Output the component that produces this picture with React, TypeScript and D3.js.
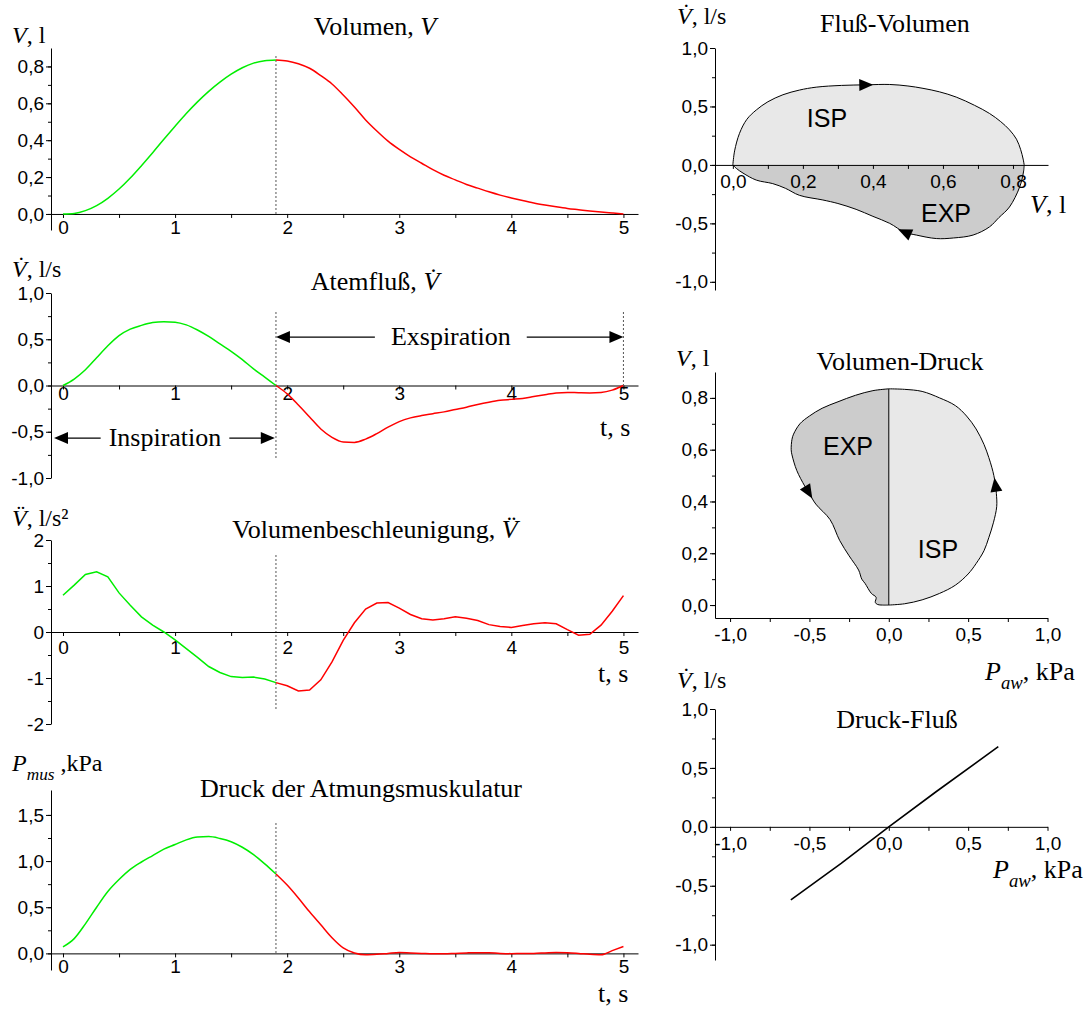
import { useEffect, useRef } from 'react';
import * as d3 from 'd3';

// time grids (s): inspiration 0..1.9, expiration 1.9..5.0
const tInsp = [0, 0.1, 0.2, 0.3, 0.4, 0.5, 0.6, 0.7, 0.8, 0.9, 1.0, 1.1, 1.2, 1.3, 1.4, 1.5, 1.6, 1.7, 1.8, 1.9];
const tExsp = [1.9, 2.0, 2.1, 2.2, 2.3, 2.4, 2.5, 2.6, 2.7, 2.8, 2.9, 3.0, 3.1, 3.2, 3.3, 3.4, 3.5, 3.6, 3.7, 3.8, 3.9, 4.0, 4.1, 4.2, 4.3, 4.4, 4.5, 4.6, 4.7, 4.8, 4.9, 5.0];
const tSwitch = 1.9;

const volumeInsp = [0, 0.003, 0.018, 0.045, 0.085, 0.135, 0.195, 0.262, 0.332, 0.405, 0.476, 0.545, 0.608, 0.665, 0.715, 0.758, 0.793, 0.818, 0.831, 0.835];
const volumeExsp = [0.835, 0.83, 0.815, 0.79, 0.75, 0.705, 0.645, 0.58, 0.51, 0.45, 0.395, 0.35, 0.31, 0.275, 0.24, 0.21, 0.185, 0.16, 0.14, 0.12, 0.102, 0.087, 0.073, 0.06, 0.049, 0.039, 0.03, 0.023, 0.016, 0.01, 0.005, 0];

const flowInsp = [0, 0.07, 0.17, 0.3, 0.43, 0.54, 0.61, 0.65, 0.68, 0.69, 0.685, 0.655, 0.6, 0.53, 0.45, 0.37, 0.28, 0.18, 0.09, 0];
const flowExsp = [0, -0.09, -0.21, -0.34, -0.47, -0.56, -0.61, -0.615, -0.58, -0.52, -0.45, -0.39, -0.35, -0.325, -0.305, -0.285, -0.26, -0.235, -0.205, -0.18, -0.16, -0.15, -0.14, -0.12, -0.1, -0.08, -0.075, -0.078, -0.08, -0.075, -0.05, 0];

const accInsp = [0.8, 1.02, 1.25, 1.31, 1.2, 0.85, 0.58, 0.33, 0.15, 0, -0.17, -0.36, -0.55, -0.75, -0.88, -0.97, -0.99, -0.98, -1.02, -1.1];
const accExsp = [-1.1, -1.17, -1.28, -1.26, -1.04, -0.65, -0.18, 0.2, 0.5, 0.63, 0.64, 0.52, 0.38, 0.29, 0.26, 0.29, 0.33, 0.3, 0.25, 0.16, 0.12, 0.1, 0.14, 0.18, 0.2, 0.18, 0.05, -0.07, -0.05, 0.15, 0.45, 0.79];

const pmusInsp = [0.07, 0.16, 0.32, 0.5, 0.67, 0.8, 0.91, 0.99, 1.06, 1.13, 1.18, 1.23, 1.26, 1.265, 1.245, 1.21, 1.15, 1.07, 0.97, 0.86];
const pmusExsp = [0.86, 0.74, 0.6, 0.45, 0.31, 0.17, 0.06, 0.005, -0.015, -0.01, 0, 0.01, 0.005, 0, -0.005, -0.005, 0, 0.005, 0.008, 0.006, 0, -0.003, 0, 0, 0.005, 0.01, 0.008, 0, -0.01, -0.015, 0.03, 0.075];

// flow-volume loop: [volume l, flow l/s]
const fvInsp: [number, number][] = [[0, 0], [0.005, 0.12], [0.019, 0.27], [0.04, 0.39], [0.067, 0.47], [0.1, 0.54], [0.143, 0.6], [0.19, 0.64], [0.238, 0.665], [0.31, 0.68], [0.381, 0.685], [0.448, 0.688], [0.5, 0.675], [0.543, 0.655], [0.59, 0.625], [0.638, 0.58], [0.69, 0.51], [0.733, 0.44], [0.765, 0.37], [0.79, 0.3], [0.81, 0.22], [0.822, 0.13], [0.829, 0.05], [0.832, 0]];
const fvExsp: [number, number][] = [[0.832, 0], [0.83, -0.06], [0.819, -0.19], [0.79, -0.36], [0.76, -0.45], [0.733, -0.53], [0.686, -0.6], [0.63, -0.625], [0.581, -0.63], [0.524, -0.6], [0.49, -0.575], [0.448, -0.5], [0.4, -0.44], [0.352, -0.38], [0.3, -0.33], [0.257, -0.3], [0.19, -0.26], [0.15, -0.2], [0.114, -0.16], [0.067, -0.13], [0.029, -0.07], [0.01, -0.03], [0, 0]];
const fvArrowInsp = 10;
const fvArrowExsp = 10;

// volume-pressure loop: [pressure kPa, volume l]
const vpInsp: [number, number][] = [[0, 0], [0.1, 0.005], [0.21, 0.02], [0.32, 0.045], [0.42, 0.077], [0.5, 0.12], [0.55, 0.16], [0.6, 0.21], [0.63, 0.26], [0.66, 0.32], [0.68, 0.38], [0.678, 0.43], [0.672, 0.465], [0.662, 0.5], [0.65, 0.53], [0.63, 0.57], [0.6, 0.62], [0.55, 0.68], [0.49, 0.73], [0.42, 0.77], [0.32, 0.8], [0.21, 0.825], [0.1, 0.833], [0, 0.835]];
const vpExsp: [number, number][] = [[0, 0.835], [-0.1, 0.828], [-0.21, 0.81], [-0.32, 0.785], [-0.42, 0.76], [-0.5, 0.73], [-0.56, 0.7], [-0.6, 0.66], [-0.61, 0.64], [-0.615, 0.6], [-0.61, 0.58], [-0.58, 0.52], [-0.53, 0.46], [-0.505, 0.435], [-0.46, 0.39], [-0.37, 0.33], [-0.31, 0.25], [-0.25, 0.19], [-0.19, 0.135], [-0.17, 0.1], [-0.15, 0.084], [-0.11, 0.045], [-0.08, 0.03], [-0.085, 0.01], [-0.07, 0.002], [-0.04, 0], [0, 0]];
const vpArrowInsp = 12;
const vpArrowExsp = 13;

// pressure-flow: [pressure kPa, flow l/s]
const pfLine: [number, number][] = [[-0.617, -0.62], [-0.3, -0.31], [0, 0], [0.3, 0.3], [0.69, 0.68]];

const timeTicks = [0, 1, 2, 3, 4, 5];
const timeMinor = [0, 0.5, 1, 1.5, 2, 2.5, 3, 3.5, 4, 4.5, 5];

const SERIF = '"Liberation Serif", "Times New Roman", Times, serif';
const SANS = '"Liberation Sans", Arial, sans-serif';
const GREEN = '#00ee00';
const RED = '#ff0000';

const loc = d3.formatLocale({ decimal: ',', thousands: '.', grouping: [3], currency: ['', ''], minus: '-' });
const f1 = loc.format('.1f');
const f0 = loc.format('d');

type Part = { s: string; i?: boolean; sub?: boolean };
type G = d3.Selection<SVGGElement, unknown, null, undefined>;

function addLabel(g: G, parts: Part[], x: number, y: number, anchor = 'start', size = 26) {
  const t = g.append('text').attr('x', x).attr('y', y).attr('text-anchor', anchor)
    .attr('font-family', SERIF).attr('font-size', size).attr('fill', '#000');
  let shifted = false;
  parts.forEach((p) => {
    const ts = t.append('tspan').text(p.s);
    if (p.i) ts.attr('font-style', 'italic');
    if (p.sub) { ts.attr('font-size', size * 0.72).attr('dy', 9); shifted = true; }
    else if (shifted) { ts.attr('dy', -9); shifted = false; }
  });
}

function styleAxis(s: any) {
  s.attr('font-family', SANS).attr('font-size', 19);
  s.selectAll('text').attr('fill', '#000');
  s.selectAll('line').attr('stroke', '#000');
  s.select('.domain').attr('stroke', '#000');
}

function yAxis(g: G, y: d3.ScaleLinear<number, number>, xPos: number, major: number[], minor: number[], fmt: (n: number) => string) {
  g.append('g').attr('transform', `translate(${xPos},0)`)
    .call(d3.axisLeft(y).tickValues(minor).tickSize(3).tickSizeOuter(0).tickFormat(() => ''))
    .call((s) => s.select('.domain').remove())
    .call(styleAxis);
  g.append('g').attr('transform', `translate(${xPos},0)`)
    .call(d3.axisLeft(y).tickValues(major).tickSize(5).tickPadding(2).tickSizeOuter(0).tickFormat(fmt as any))
    .call(styleAxis);
}

function xAxis(g: G, x: d3.ScaleLinear<number, number>, yPos: number, major: number[], minor: number[], fmt: (n: number) => string, gap: number) {
  g.append('g').attr('transform', `translate(0,${yPos})`)
    .call(d3.axisBottom(x).tickValues(minor).tickSize(4).tickSizeOuter(0).tickFormat(() => ''))
    .call(styleAxis);
  g.append('g').attr('transform', `translate(0,${yPos})`)
    .call(d3.axisBottom(x).tickValues(major).tickSize(0).tickPadding(gap).tickFormat(fmt as any))
    .call((s) => s.select('.domain').remove())
    .call(styleAxis);
}

function arrowHead(g: G, px: number, py: number, angle: number, tipAtPoint = false) {
  const L = 14, W = 6;
  const pts = tipAtPoint ? [[0, 0], [-L, -W], [-L, W]] : [[L / 2, 0], [-L / 2, -W], [-L / 2, W]];
  g.append('path').attr('d', `M${pts.map((p) => p.join(',')).join('L')}Z`)
    .attr('transform', `translate(${px},${py}) rotate(${angle})`).attr('fill', '#000');
}

function loopArrow(g: G, pts: [number, number][], i: number, xs: d3.ScaleLinear<number, number>, ys: d3.ScaleLinear<number, number>) {
  const a = pts[i - 1], b = pts[i + 1];
  const ang = (Math.atan2(ys(b[1]) - ys(a[1]), xs(b[0]) - xs(a[0])) * 180) / Math.PI;
  arrowHead(g, xs(pts[i][0]), ys(pts[i][1]), ang);
}

export default function App() {
  const ref = useRef<SVGSVGElement>(null);

  useEffect(() => {
    const svg = d3.select(ref.current);
    svg.selectAll('*').remove();
    const root = svg.append('g') as unknown as G;

    const x = d3.scaleLinear().domain([-0.107, 5.13]).range([51, 638]);
    const pair = (ts: number[], vs: number[]) => ts.map((t, i) => [t, vs[i]] as [number, number]);

    const timePanel = (
      y: d3.ScaleLinear<number, number>, yMajor: number[], yMinor: number[], fmt: (n: number) => string,
      gap: number, insp: number[], exsp: number[], curve: d3.CurveFactory, dotTop: number, dotBottom: number,
    ) => {
      const g = root.append('g') as unknown as G;
      g.append('line').attr('x1', x(tSwitch)).attr('x2', x(tSwitch)).attr('y1', dotTop).attr('y2', dotBottom)
        .attr('stroke', '#555').attr('stroke-dasharray', '2,2');
      yAxis(g, y, 51, yMajor, yMinor, fmt);
      xAxis(g, x, y(0), timeTicks, timeMinor, f0, gap);
      const line = d3.line<[number, number]>().x((d) => x(d[0])).y((d) => y(d[1])).curve(curve);
      g.append('path').attr('d', line(pair(tInsp, insp))).attr('fill', 'none').attr('stroke', GREEN).attr('stroke-width', 1.5);
      g.append('path').attr('d', line(pair(tExsp, exsp))).attr('fill', 'none').attr('stroke', RED).attr('stroke-width', 1.5);
      return g;
    };

    // Volumen
    const y1 = d3.scaleLinear().domain([-0.087, 0.9]).range([230, 48]);
    timePanel(y1, [0, 0.2, 0.4, 0.6, 0.8], [0, 0.1, 0.2, 0.3, 0.4, 0.5, 0.6, 0.7, 0.8], f1, 7, volumeInsp, volumeExsp, d3.curveMonotoneX, 56, y1(0));
    addLabel(root, [{ s: 'V', i: true }, { s: ', l' }], 12, 43, 'start', 24);
    addLabel(root, [{ s: 'Volumen, ' }, { s: 'V', i: true }], 375, 35, 'middle');

    // Atemfluss
    const y2 = d3.scaleLinear().domain([-1, 1]).range([478, 293]);
    const g2 = timePanel(y2, [-1, -0.5, 0, 0.5, 1], [-1, -0.75, -0.5, -0.25, 0, 0.25, 0.5, 0.75, 1], f1, 1, flowInsp, flowExsp, d3.curveMonotoneX, 312, 458);
    g2.append('line').attr('x1', x(5)).attr('x2', x(5)).attr('y1', 312).attr('y2', y2(0))
      .attr('stroke', '#555').attr('stroke-dasharray', '2,2');
    addLabel(root, [{ s: 'V\u0307', i: true }, { s: ', l/s' }], 12, 277, 'start', 24);
    addLabel(root, [{ s: 'Atemfluß, ' }, { s: 'V\u0307', i: true }], 375, 290, 'middle');
    addLabel(root, [{ s: 't, s' }], 600, 436);

    const phase = (t0: number, t1: number, fy: number, text: string, tc: number, pad: number) => {
      const yy = y2(fy);
      const label = g2.append('text').attr('x', x(tc)).attr('y', yy + 8).attr('text-anchor', 'middle')
        .attr('font-family', SERIF).attr('font-size', 26).text(text);
      const w = (label.node() as SVGTextElement).getComputedTextLength();
      const xa = x(t0), xb = x(t1), cx = x(tc);
      g2.append('line').attr('x1', xa + 4).attr('x2', cx - w / 2 - pad).attr('y1', yy).attr('y2', yy).attr('stroke', '#000').attr('stroke-width', 1.3);
      g2.append('line').attr('x1', cx + w / 2 + pad).attr('x2', xb - 4).attr('y1', yy).attr('y2', yy).attr('stroke', '#000').attr('stroke-width', 1.3);
      arrowHead(g2, xa, yy, 180, true);
      arrowHead(g2, xb, yy, 0, true);
    };
    phase(tSwitch, 5, 0.524, 'Exspiration', 3.46, 16);
    phase(-0.08, 1.89, -0.568, 'Inspiration', 0.91, 8);

    // Volumenbeschleunigung
    const y3 = d3.scaleLinear().domain([-2, 2]).range([724, 540]);
    timePanel(y3, [-2, -1, 0, 1, 2], [-2, -1.5, -1, -0.5, 0, 0.5, 1, 1.5, 2], f0, 9, accInsp, accExsp, d3.curveLinear, 555, 710);
    addLabel(root, [{ s: 'V\u0308', i: true }, { s: ', l/s\u00B2' }], 12, 526, 'start', 24);
    addLabel(root, [{ s: 'Volumenbeschleunigung, ' }, { s: 'V\u0308', i: true }], 375, 538, 'middle');
    addLabel(root, [{ s: 't, s' }], 598, 682);

    // Druck der Atmungsmuskulatur
    const y4 = d3.scaleLinear().domain([-0.18, 1.77]).range([970, 790]);
    timePanel(y4, [0, 0.5, 1, 1.5], [0, 0.25, 0.5, 0.75, 1, 1.25, 1.5], f1, 6, pmusInsp, pmusExsp, d3.curveMonotoneX, 823, y4(0));
    addLabel(root, [{ s: 'P', i: true }, { s: 'mus', i: true, sub: true }, { s: ' ,kPa' }], 12, 771, 'start', 24);
    addLabel(root, [{ s: 'Druck der Atmungsmuskulatur' }], 361, 797, 'middle');
    addLabel(root, [{ s: 't, s' }], 598, 1002);

    // Fluss-Volumen loop
    const xr1 = d3.scaleLinear().domain([-0.051, 0.9]).range([715, 1048]);
    const yr1 = d3.scaleLinear().domain([-1.07, 1]).range([290, 48]);
    const gr1 = root.append('g') as unknown as G;
    const lr1 = d3.line<[number, number]>().x((d) => xr1(d[0])).y((d) => yr1(d[1])).curve(d3.curveCatmullRom);
    gr1.append('path').attr('d', lr1(fvInsp) + 'Z').attr('fill', '#e8e8e8');
    gr1.append('path').attr('d', lr1(fvExsp) + 'Z').attr('fill', '#cccccc');
    yAxis(gr1, yr1, 715, [-1, -0.5, 0, 0.5, 1], [-1, -0.75, -0.5, -0.25, 0, 0.25, 0.5, 0.75, 1], f1);
    xAxis(gr1, xr1, yr1(0), [0, 0.2, 0.4, 0.6, 0.8], [0, 0.1, 0.2, 0.3, 0.4, 0.5, 0.6, 0.7, 0.8], f1, 10);
    gr1.append('path').attr('d', lr1(fvInsp)).attr('fill', 'none').attr('stroke', '#000');
    gr1.append('path').attr('d', lr1(fvExsp)).attr('fill', 'none').attr('stroke', '#000');
    loopArrow(gr1, fvInsp, fvArrowInsp, xr1, yr1);
    loopArrow(gr1, fvExsp, fvArrowExsp, xr1, yr1);
    gr1.append('text').attr('x', 827).attr('y', 127).attr('text-anchor', 'middle').attr('font-family', SANS).attr('font-size', 25).text('ISP');
    gr1.append('text').attr('x', 946).attr('y', 222).attr('text-anchor', 'middle').attr('font-family', SANS).attr('font-size', 25).text('EXP');
    addLabel(root, [{ s: 'V\u0307', i: true }, { s: ', l/s' }], 677, 24, 'start', 24);
    addLabel(root, [{ s: 'Fluß-Volumen' }], 895, 32, 'middle');
    addLabel(root, [{ s: 'V', i: true }, { s: ', l' }], 1030, 213, 'start', 26);

    // Volumen-Druck loop
    const xr = d3.scaleLinear().domain([-1.095, 1]).range([715, 1047.5]);
    const yr2 = d3.scaleLinear().domain([-0.05, 0.9]).range([618, 372]);
    const gr2 = root.append('g') as unknown as G;
    const lr2 = d3.line<[number, number]>().x((d) => xr(d[0])).y((d) => yr2(d[1])).curve(d3.curveCatmullRom);
    gr2.append('path').attr('d', lr2(vpInsp) + 'Z').attr('fill', '#e8e8e8');
    gr2.append('path').attr('d', lr2(vpExsp) + 'Z').attr('fill', '#cccccc');
    yAxis(gr2, yr2, 715, [0, 0.2, 0.4, 0.6, 0.8], [0, 0.1, 0.2, 0.3, 0.4, 0.5, 0.6, 0.7, 0.8], f1);
    xAxis(gr2, xr, yr2(-0.05), [-1, -0.5, 0, 0.5, 1], [-1, -0.75, -0.5, -0.25, 0, 0.25, 0.5, 0.75, 1], f1, 10);
    gr2.append('line').attr('x1', xr(0)).attr('x2', xr(0)).attr('y1', yr2(0)).attr('y2', yr2(vpInsp[vpInsp.length - 1][1])).attr('stroke', '#000');
    gr2.append('path').attr('d', lr2(vpInsp)).attr('fill', 'none').attr('stroke', '#000');
    gr2.append('path').attr('d', lr2(vpExsp)).attr('fill', 'none').attr('stroke', '#000');
    loopArrow(gr2, vpInsp, vpArrowInsp, xr, yr2);
    loopArrow(gr2, vpExsp, vpArrowExsp, xr, yr2);
    gr2.append('text').attr('x', 848).attr('y', 455).attr('text-anchor', 'middle').attr('font-family', SANS).attr('font-size', 25).text('EXP');
    gr2.append('text').attr('x', 938).attr('y', 558).attr('text-anchor', 'middle').attr('font-family', SANS).attr('font-size', 25).text('ISP');
    addLabel(root, [{ s: 'V', i: true }, { s: ', l' }], 676, 366, 'start', 24);
    addLabel(root, [{ s: 'Volumen-Druck' }], 900, 370, 'middle');
    addLabel(root, [{ s: 'P', i: true }, { s: 'aw', i: true, sub: true }, { s: ', kPa' }], 985, 680);

    // Druck-Fluss
    const yr3 = d3.scaleLinear().domain([-1.13, 1]).range([960, 709]);
    const gr3 = root.append('g') as unknown as G;
    yAxis(gr3, yr3, 715, [-1, -0.5, 0, 0.5, 1], [-1, -0.75, -0.5, -0.25, 0, 0.25, 0.5, 0.75, 1], f1);
    xAxis(gr3, xr, yr3(0), [-1, -0.5, 0, 0.5, 1], [-1, -0.75, -0.5, -0.25, 0, 0.25, 0.5, 0.75, 1], f1, 10);
    const lr3 = d3.line<[number, number]>().x((d) => xr(d[0])).y((d) => yr3(d[1]));
    gr3.append('path').attr('d', lr3(pfLine)).attr('fill', 'none').attr('stroke', '#000').attr('stroke-width', 1.6);
    addLabel(root, [{ s: 'V\u0307', i: true }, { s: ', l/s' }], 677, 688, 'start', 24);
    addLabel(root, [{ s: 'Druck-Fluß' }], 897, 728, 'middle');
    addLabel(root, [{ s: 'P', i: true }, { s: 'aw', i: true, sub: true }, { s: ', kPa' }], 993, 878);
  }, []);

  return (
    <svg ref={ref} width={1084} height={1009} style={{ position: 'absolute', left: 0, top: 0, background: '#fff' }} />
  );
}
